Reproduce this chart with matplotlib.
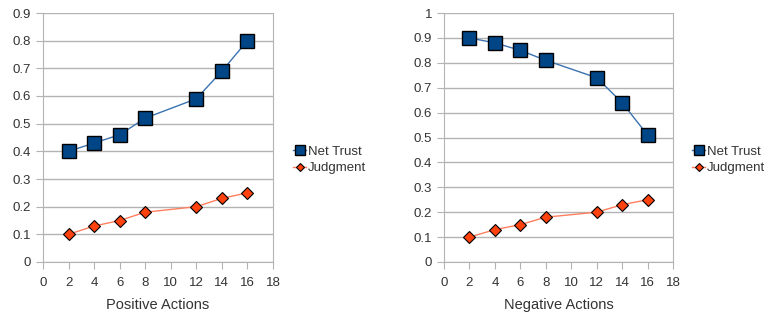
import matplotlib
matplotlib.use('Agg')
import matplotlib.pyplot as plt

actions = [2, 4, 6, 8, 12, 14, 16]
pos_trust = [0.40, 0.43, 0.46, 0.52, 0.59, 0.69, 0.80]
pos_judg = [0.10, 0.13, 0.15, 0.18, 0.20, 0.23, 0.25]
neg_trust = [0.90, 0.88, 0.85, 0.81, 0.74, 0.64, 0.51]
neg_judg = [0.10, 0.13, 0.15, 0.18, 0.20, 0.23, 0.25]

plt.rcParams['font.family'] = ['Liberation Sans', 'DejaVu Sans']
plt.rcParams['font.size'] = 9

fig = plt.figure(figsize=(7.64, 3.14), dpi=100)
W, H = 764, 314

def panel(left, right, xlabel, trust, judg, ymax, legx):
    ax = fig.add_axes([left / W, 1 - 262 / H, (right - left) / W, (262 - 13) / H])
    ax.plot(actions, trust, color='#3b72b0', lw=1, marker='s', ms=9.5,
            mfc='#004586', mec='black', mew=1, label='Net Trust')
    ax.plot(actions, judg, color='#ff7f5e', lw=1, marker='D', ms=6.5,
            mfc='#ff420e', mec='black', mew=0.8, label='Judgment')
    ax.set_xlim(0, 18)
    ax.set_ylim(0, ymax)
    ax.set_xticks(range(0, 19, 2))
    ax.set_yticks([i / 10 for i in range(0, int(round(ymax * 10)) + 1)])
    ax.set_yticklabels(['%g' % (i / 10) for i in range(0, int(round(ymax * 10)) + 1)])
    ax.grid(axis='y', color='#b3b3b3', lw=1)
    ax.set_axisbelow(True)
    ax.spines['top'].set_visible(False)
    for s in ['left', 'bottom', 'right']:
        ax.spines[s].set_color('#b3b3b3')
    ax.tick_params(colors='#b3b3b3', labelcolor='#333333', length=5, labelsize=9.5)
    ax.tick_params(axis='x', pad=6)
    ax.set_xlabel(xlabel, fontsize=10.5, color='#333333', labelpad=6)
    leg = ax.legend(loc='center left', bbox_to_anchor=(legx / W, 1 - 160 / H),
                    bbox_transform=fig.transFigure, frameon=False, fontsize=9.5,
                    handlelength=1.0, handletextpad=0.15, borderpad=0,
                    borderaxespad=0, labelspacing=0.3, markerscale=0.7)
    for t in leg.get_texts():
        t.set_color('#333333')
    return ax

panel(43, 273, 'Positive Actions', pos_trust, pos_judg, 0.9, 293)
panel(444, 673, 'Negative Actions', neg_trust, neg_judg, 1.0, 692)

fig.savefig('out.png', dpi=100)
